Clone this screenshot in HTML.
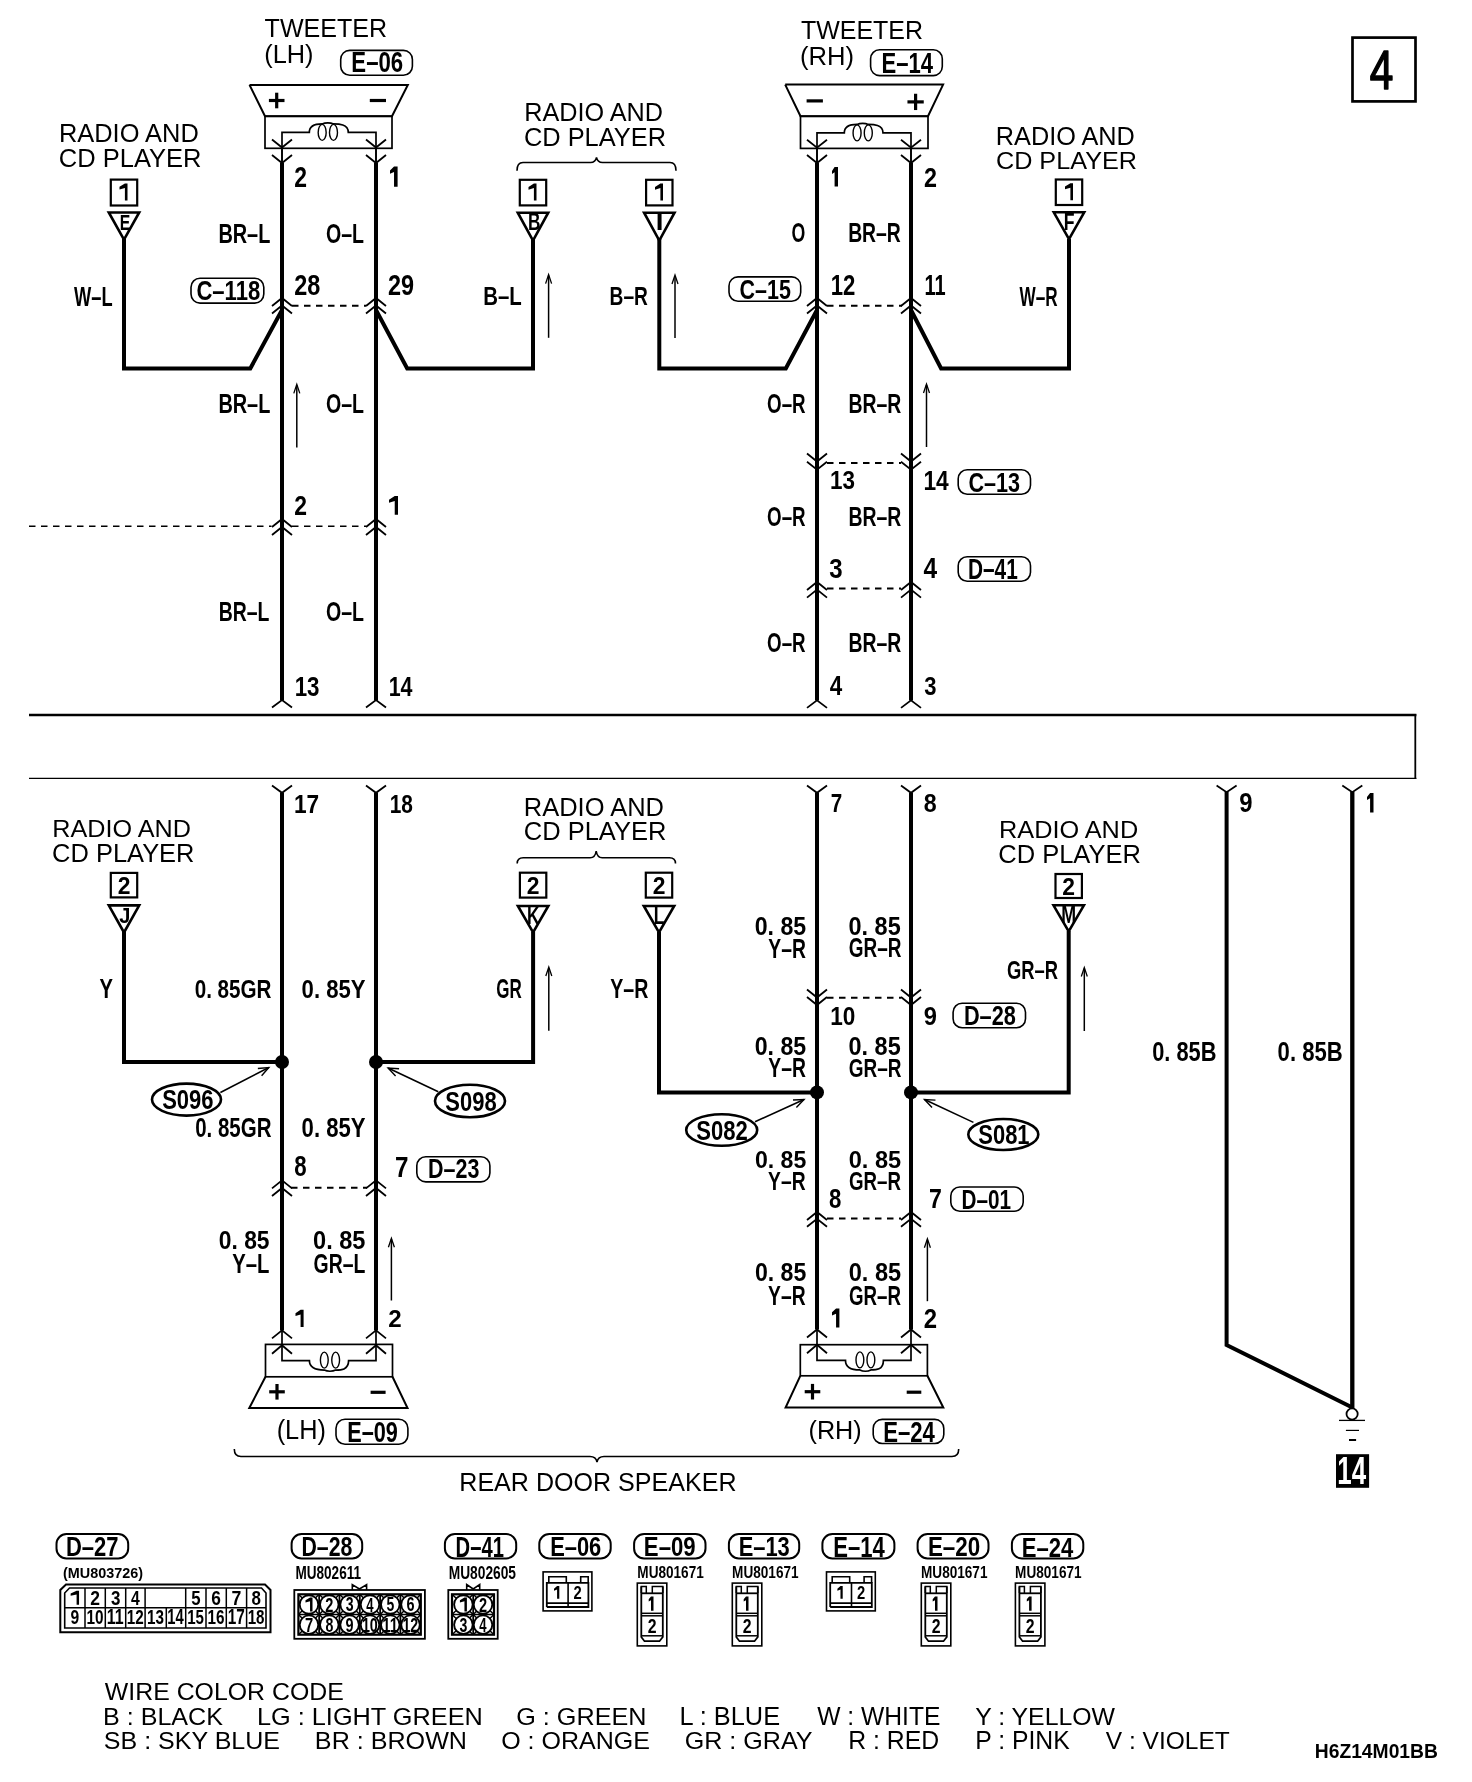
<!DOCTYPE html><html><head><meta charset="utf-8"><title>Wiring diagram</title><style>html,body{margin:0;padding:0;background:#fff;width:1472px;height:1782px;overflow:hidden}text{font-family:"Liberation Sans",sans-serif;white-space:pre}</style></head><body>
<svg width="1472" height="1782" viewBox="0 0 1472 1782" style="display:block;filter:grayscale(100%)" stroke="#000" fill="none" font-family="Liberation Sans, sans-serif">
<rect x="1352.5" y="37.6" width="63" height="63.8" rx="0" stroke-width="2.7" fill="none" stroke="#000"/>
<text x="1369.85" y="88.82" font-size="55.11" font-weight="normal" textLength="23.57" lengthAdjust="spacingAndGlyphs" fill="#000" stroke="#000" stroke-width="1.6" stroke-linejoin="round">4</text>
<text x="264.6" y="36.57" font-size="26.47" font-weight="normal" textLength="122.62" lengthAdjust="spacingAndGlyphs" fill="#000" stroke="none">TWEETER</text>
<text x="264.28" y="62.5" font-size="26.2" font-weight="normal" textLength="49.22" lengthAdjust="spacingAndGlyphs" fill="#000" stroke="none">(LH)</text>
<rect x="340.7" y="50.4" width="71.7" height="24.8" rx="9" stroke-width="1.6" fill="none" stroke="#000"/>
<text x="351.36" y="72.41" font-size="28.73" font-weight="bold" textLength="51.83" lengthAdjust="spacingAndGlyphs" fill="#000" stroke="none">E–06</text>
<polyline points="249.5,84.9 407.8,84.9 392,116.2 265,116.2 249.5,84.9" stroke-width="2" fill="none" stroke-linejoin="miter" />
<rect x="265" y="116.2" width="127" height="32.1" rx="0" stroke-width="1.7" fill="none" stroke="#000"/>
<path d="M282,164.3 V132.4 H309.3 C309.3,123.9 319.17,123.9 322.17,123.9 C325.17,122.4 330.48,122.4 333.48,123.9 C338.48,123.9 348.3,123.9 348.3,132.4 H376 V164.3" stroke-width="1.7" fill="none" />
<ellipse cx="322.17" cy="132.4" rx="4" ry="8" stroke-width="1.4" fill="none"/>
<ellipse cx="333.48" cy="132.4" rx="4" ry="8" stroke-width="1.4" fill="none"/>
<line x1="268.9" y1="100.5" x2="284.5" y2="100.5" stroke-width="3.2" stroke-linecap="butt" />
<line x1="276.7" y1="92.7" x2="276.7" y2="108.3" stroke-width="3.2" stroke-linecap="butt" />
<line x1="369.8" y1="100.5" x2="386" y2="100.5" stroke-width="3.2" stroke-linecap="butt" />
<polyline points="272,139.5 282,147.5 292,139.5" stroke-width="1.8" fill="none" stroke-linejoin="miter" />
<polyline points="272,155 282,163 292,155" stroke-width="1.8" fill="none" stroke-linejoin="miter" />
<line x1="282" y1="148" x2="282" y2="163" stroke-width="1.5" stroke-linecap="butt" />
<polyline points="366,139.5 376,147.5 386,139.5" stroke-width="1.8" fill="none" stroke-linejoin="miter" />
<polyline points="366,155 376,163 386,155" stroke-width="1.8" fill="none" stroke-linejoin="miter" />
<line x1="376" y1="148" x2="376" y2="163" stroke-width="1.5" stroke-linecap="butt" />
<line x1="282" y1="163" x2="282" y2="368.5" stroke-width="4" stroke-linecap="butt" />
<text x="294.2" y="186.8" font-size="29.14" font-weight="bold" textLength="12.75" lengthAdjust="spacingAndGlyphs" fill="#000" stroke="none">2</text>
<path d="M394.03,166.4 H397.6 V186.8 H394.03 V171.91 L390,173.74 V170.48 Z" fill="#000" stroke="none"/>
<text x="58.99" y="142.34" font-size="25.77" font-weight="normal" textLength="139.77" lengthAdjust="spacingAndGlyphs" fill="#000" stroke="none">RADIO AND</text>
<text x="58.82" y="167.44" font-size="25.77" font-weight="normal" textLength="142.73" lengthAdjust="spacingAndGlyphs" fill="#000" stroke="none">CD PLAYER</text>
<rect x="110.8" y="179.6" width="26.4" height="25.9" rx="0" stroke-width="2.2" fill="none" stroke="#000"/>
<polygon points="108.8,212.5 139.2,212.5 124,239.6" stroke-width="2.6" fill="none" stroke-linejoin="miter"/>
<path d="M124.9,183.4 H127.5 V200.4 H124.9 V187.99 L119.5,189.52 V186.8 Z" fill="#000" stroke="none"/>
<text x="119.78" y="229.6" font-size="21.74" font-weight="bold" textLength="10.51" lengthAdjust="spacingAndGlyphs" fill="#000" stroke="none">E</text>
<polyline points="124,239 124,368.5 250.3,368.5 282,310" stroke-width="4" fill="none" stroke-linejoin="miter" />
<text x="74" y="305.7" font-size="27.68" font-weight="bold" textLength="38.56" lengthAdjust="spacingAndGlyphs" fill="#000" stroke="none">W–L</text>
<line x1="282" y1="163" x2="282" y2="700.5" stroke-width="4" stroke-linecap="butt" />
<line x1="376" y1="163" x2="376" y2="700.5" stroke-width="4" stroke-linecap="butt" />
<text x="218.41" y="242.66" font-size="27.91" font-weight="bold" textLength="51.92" lengthAdjust="spacingAndGlyphs" fill="#000" stroke="none">BR–L</text>
<text x="325.92" y="242.53" font-size="27.32" font-weight="bold" textLength="38.07" lengthAdjust="spacingAndGlyphs" fill="#000" stroke="none">O–L</text>
<rect x="191" y="278.2" width="72.8" height="24.9" rx="9" stroke-width="1.6" fill="none" stroke="#000"/>
<text x="196.42" y="299.63" font-size="27.32" font-weight="bold" textLength="63.78" lengthAdjust="spacingAndGlyphs" fill="#000" stroke="none">C–118</text>
<text x="294.28" y="294.51" font-size="28.73" font-weight="bold" textLength="26.08" lengthAdjust="spacingAndGlyphs" fill="#000" stroke="none">28</text>
<text x="388.08" y="294.51" font-size="28.73" font-weight="bold" textLength="26.1" lengthAdjust="spacingAndGlyphs" fill="#000" stroke="none">29</text>
<polyline points="272,306 282,298 292,306" stroke-width="1.8" fill="none" stroke-linejoin="miter" />
<polyline points="272,313.5 282,305.5 292,313.5" stroke-width="1.8" fill="none" stroke-linejoin="miter" />
<polyline points="366,306 376,298 386,306" stroke-width="1.8" fill="none" stroke-linejoin="miter" />
<polyline points="366,313.5 376,305.5 386,313.5" stroke-width="1.8" fill="none" stroke-linejoin="miter" />
<line x1="292" y1="305.7" x2="366" y2="305.7" stroke-width="2.1" stroke-linecap="butt" stroke-dasharray="6.5,5.5"/>
<polyline points="376,310 407.2,368.5 533,368.5 533,239" stroke-width="4" fill="none" stroke-linejoin="miter" />
<text x="218.41" y="412.86" font-size="27.91" font-weight="bold" textLength="51.92" lengthAdjust="spacingAndGlyphs" fill="#000" stroke="none">BR–L</text>
<text x="325.92" y="412.73" font-size="27.32" font-weight="bold" textLength="38.07" lengthAdjust="spacingAndGlyphs" fill="#000" stroke="none">O–L</text>
<line x1="296.8" y1="385.4" x2="296.8" y2="447.6" stroke-width="1.5" stroke-linecap="butt" />
<polyline points="293.8,393.4 296.8,384.4 299.8,393.4" stroke-width="1.3" fill="none" stroke-linejoin="miter" />
<line x1="29" y1="526.3" x2="271.5" y2="526.3" stroke-width="1.4" stroke-linecap="butt" stroke-dasharray="6.5,5.5"/>
<line x1="292" y1="526.3" x2="366" y2="526.3" stroke-width="1.4" stroke-linecap="butt" stroke-dasharray="6.5,5.5"/>
<polyline points="272,527 282,519 292,527" stroke-width="1.8" fill="none" stroke-linejoin="miter" />
<polyline points="272,535 282,527 292,535" stroke-width="1.8" fill="none" stroke-linejoin="miter" />
<polyline points="366,527 376,519 386,527" stroke-width="1.8" fill="none" stroke-linejoin="miter" />
<polyline points="366,535 376,527 386,535" stroke-width="1.8" fill="none" stroke-linejoin="miter" />
<text x="294.2" y="514.7" font-size="26.71" font-weight="bold" textLength="12.75" lengthAdjust="spacingAndGlyphs" fill="#000" stroke="none">2</text>
<path d="M394.73,496 H398 V514.7 H394.73 V501.05 L389,502.73 V499.74 Z" fill="#000" stroke="none"/>
<text x="218.74" y="620.86" font-size="27.34" font-weight="bold" textLength="50.67" lengthAdjust="spacingAndGlyphs" fill="#000" stroke="none">BR–L</text>
<text x="325.92" y="620.73" font-size="26.76" font-weight="bold" textLength="38.07" lengthAdjust="spacingAndGlyphs" fill="#000" stroke="none">O–L</text>
<text x="294.66" y="695.73" font-size="26.76" font-weight="bold" textLength="24.88" lengthAdjust="spacingAndGlyphs" fill="#000" stroke="none">13</text>
<text x="388.71" y="696" font-size="27.54" font-weight="bold" textLength="23.84" lengthAdjust="spacingAndGlyphs" fill="#000" stroke="none">14</text>
<polyline points="272,707.5 282,700 292,707.5" stroke-width="1.8" fill="none" stroke-linejoin="miter" />
<polyline points="366,707.5 376,700 386,707.5" stroke-width="1.8" fill="none" stroke-linejoin="miter" />
<text x="524.2" y="120.54" font-size="25.92" font-weight="normal" textLength="138.75" lengthAdjust="spacingAndGlyphs" fill="#000" stroke="none">RADIO AND</text>
<text x="523.93" y="145.94" font-size="25.77" font-weight="normal" textLength="142.12" lengthAdjust="spacingAndGlyphs" fill="#000" stroke="none">CD PLAYER</text>
<path d="M517,170.7 Q517,162.5 523,162.5 L590.5,162.5 Q595.5,162.5 596.5,157.4 Q597.5,162.5 602.5,162.5 L670,162.5 Q676,162.5 676,170.7" stroke-width="1.6" fill="none" />
<rect x="519.8" y="179.8" width="26.4" height="25.6" rx="0" stroke-width="2.2" fill="none" stroke="#000"/>
<polygon points="517.8,212.7 548.2,212.7 533,240.5" stroke-width="2.6" fill="none" stroke-linejoin="miter"/>
<path d="M533.9,183.5 H536.5 V200.6 H533.9 V188.12 L528.5,189.66 V186.92 Z" fill="#000" stroke="none"/>
<text x="527.88" y="229.8" font-size="23.62" font-weight="bold" textLength="12.43" lengthAdjust="spacingAndGlyphs" fill="#000" stroke="none">B</text>
<rect x="646.1" y="179.8" width="26.4" height="25.6" rx="0" stroke-width="2.2" fill="none" stroke="#000"/>
<polygon points="644.1,212.7 674.5,212.7 659.3,240.5" stroke-width="2.6" fill="none" stroke-linejoin="miter"/>
<path d="M660.4,183.5 H663 V200.6 H660.4 V188.12 L655,189.66 V186.92 Z" fill="#000" stroke="none"/>
<text x="655.71" y="229.8" font-size="23.62" font-weight="bold" textLength="7.66" lengthAdjust="spacingAndGlyphs" fill="#000" stroke="none">I</text>
<text x="483.17" y="305.2" font-size="26.67" font-weight="bold" textLength="38.52" lengthAdjust="spacingAndGlyphs" fill="#000" stroke="none">B–L</text>
<line x1="548.6" y1="275.6" x2="548.6" y2="337.8" stroke-width="1.5" stroke-linecap="butt" />
<polyline points="545.6,283.6 548.6,274.6 551.6,283.6" stroke-width="1.3" fill="none" stroke-linejoin="miter" />
<text x="609.55" y="305.07" font-size="26.47" font-weight="bold" textLength="38.34" lengthAdjust="spacingAndGlyphs" fill="#000" stroke="none">B–R</text>
<line x1="675" y1="276" x2="675" y2="338" stroke-width="1.5" stroke-linecap="butt" />
<polyline points="672,284 675,275 678,284" stroke-width="1.3" fill="none" stroke-linejoin="miter" />
<polyline points="659.3,239 659.3,368.5 785.8,368.5 817,310" stroke-width="4" fill="none" stroke-linejoin="miter" />
<text x="801" y="38.57" font-size="26.33" font-weight="normal" textLength="122.01" lengthAdjust="spacingAndGlyphs" fill="#000" stroke="none">TWEETER</text>
<text x="799.96" y="64.82" font-size="26.1" font-weight="normal" textLength="54.08" lengthAdjust="spacingAndGlyphs" fill="#000" stroke="none">(RH)</text>
<rect x="870.6" y="49.7" width="71.7" height="25.9" rx="9" stroke-width="1.6" fill="none" stroke="#000"/>
<text x="881.57" y="72.5" font-size="30" font-weight="bold" textLength="51.56" lengthAdjust="spacingAndGlyphs" fill="#000" stroke="none">E–14</text>
<polyline points="785.2,84.6 943.1,84.6 928,116.2 800.5,116.2 785.2,84.6" stroke-width="2" fill="none" stroke-linejoin="miter" />
<rect x="800.5" y="116.2" width="127.5" height="32.2" rx="0" stroke-width="1.7" fill="none" stroke="#000"/>
<path d="M817,164.4 V132.9 H844.3 C844.3,124.4 854.07,124.4 857.07,124.4 C860.07,122.9 865.29,122.9 868.29,124.4 C873.29,124.4 883,124.4 883,132.9 H911 V164.4" stroke-width="1.7" fill="none" />
<ellipse cx="857.07" cy="132.9" rx="4" ry="8" stroke-width="1.4" fill="none"/>
<ellipse cx="868.29" cy="132.9" rx="4" ry="8" stroke-width="1.4" fill="none"/>
<line x1="806.6" y1="100.9" x2="822.9" y2="100.9" stroke-width="3.2" stroke-linecap="butt" />
<line x1="907.45" y1="101.9" x2="923.75" y2="101.9" stroke-width="3.2" stroke-linecap="butt" />
<line x1="915.6" y1="93.75" x2="915.6" y2="110.05" stroke-width="3.2" stroke-linecap="butt" />
<polyline points="807,139.7 817,147.7 827,139.7" stroke-width="1.8" fill="none" stroke-linejoin="miter" />
<polyline points="807,155 817,163 827,155" stroke-width="1.8" fill="none" stroke-linejoin="miter" />
<line x1="817" y1="148" x2="817" y2="163" stroke-width="1.5" stroke-linecap="butt" />
<polyline points="901,139.7 911,147.7 921,139.7" stroke-width="1.8" fill="none" stroke-linejoin="miter" />
<polyline points="901,155 911,163 921,155" stroke-width="1.8" fill="none" stroke-linejoin="miter" />
<line x1="911" y1="148" x2="911" y2="163" stroke-width="1.5" stroke-linecap="butt" />
<line x1="817" y1="163" x2="817" y2="700.5" stroke-width="4" stroke-linecap="butt" />
<line x1="911" y1="163" x2="911" y2="700.5" stroke-width="4" stroke-linecap="butt" />
<path d="M834.59,167 H838 V186.5 H834.59 V172.26 L832,174.02 V170.9 Z" fill="#000" stroke="none"/>
<text x="923.98" y="186.5" font-size="27.86" font-weight="bold" textLength="12.98" lengthAdjust="spacingAndGlyphs" fill="#000" stroke="none">2</text>
<text x="791.59" y="242.23" font-size="27.18" font-weight="bold" textLength="13.77" lengthAdjust="spacingAndGlyphs" fill="#000" stroke="none">O</text>
<text x="848.14" y="242.36" font-size="27.77" font-weight="bold" textLength="52.7" lengthAdjust="spacingAndGlyphs" fill="#000" stroke="none">BR–R</text>
<rect x="729" y="276.9" width="71.7" height="24.3" rx="9" stroke-width="1.6" fill="none" stroke="#000"/>
<text x="739.54" y="298.72" font-size="28.17" font-weight="bold" textLength="51.31" lengthAdjust="spacingAndGlyphs" fill="#000" stroke="none">C–15</text>
<text x="830.67" y="294.5" font-size="29.14" font-weight="bold" textLength="24.66" lengthAdjust="spacingAndGlyphs" fill="#000" stroke="none">12</text>
<text x="924.6" y="294.5" font-size="29.57" font-weight="bold" textLength="21.14" lengthAdjust="spacingAndGlyphs" fill="#000" stroke="none">11</text>
<polyline points="807,306 817,298 827,306" stroke-width="1.8" fill="none" stroke-linejoin="miter" />
<polyline points="807,313.5 817,305.5 827,313.5" stroke-width="1.8" fill="none" stroke-linejoin="miter" />
<polyline points="901,306 911,298 921,306" stroke-width="1.8" fill="none" stroke-linejoin="miter" />
<polyline points="901,313.5 911,305.5 921,313.5" stroke-width="1.8" fill="none" stroke-linejoin="miter" />
<line x1="827" y1="305.7" x2="902" y2="305.7" stroke-width="2.1" stroke-linecap="butt" stroke-dasharray="6.5,5.5"/>
<polyline points="911,310 941.1,368.5 1069,368.5 1069,239" stroke-width="4" fill="none" stroke-linejoin="miter" />
<text x="995.8" y="144.54" font-size="25.77" font-weight="normal" textLength="139.06" lengthAdjust="spacingAndGlyphs" fill="#000" stroke="none">RADIO AND</text>
<text x="995.94" y="169.06" font-size="24.37" font-weight="normal" textLength="141.1" lengthAdjust="spacingAndGlyphs" fill="#000" stroke="none">CD PLAYER</text>
<rect x="1055.8" y="179.5" width="26.4" height="25.5" rx="0" stroke-width="2.2" fill="none" stroke="#000"/>
<polygon points="1053.8,212.3 1084.2,212.3 1069,239.1" stroke-width="2.6" fill="none" stroke-linejoin="miter"/>
<path d="M1070.4,183.2 H1073 V200.3 H1070.4 V187.82 L1065,189.36 V186.62 Z" fill="#000" stroke="none"/>
<text x="1063.85" y="229.5" font-size="23.19" font-weight="bold" textLength="10.78" lengthAdjust="spacingAndGlyphs" fill="#000" stroke="none">F</text>
<text x="1019.6" y="305.66" font-size="27.77" font-weight="bold" textLength="38.08" lengthAdjust="spacingAndGlyphs" fill="#000" stroke="none">W–R</text>
<text x="767.05" y="413.22" font-size="27.61" font-weight="bold" textLength="38.55" lengthAdjust="spacingAndGlyphs" fill="#000" stroke="none">O–R</text>
<text x="848.54" y="413.36" font-size="28.2" font-weight="bold" textLength="52.8" lengthAdjust="spacingAndGlyphs" fill="#000" stroke="none">BR–R</text>
<line x1="926.5" y1="385" x2="926.5" y2="447" stroke-width="1.5" stroke-linecap="butt" />
<polyline points="923.5,393 926.5,384 929.5,393" stroke-width="1.3" fill="none" stroke-linejoin="miter" />
<polyline points="807,453.5 817,461.5 827,453.5" stroke-width="1.8" fill="none" stroke-linejoin="miter" />
<polyline points="807,461.7 817,469.7 827,461.7" stroke-width="1.8" fill="none" stroke-linejoin="miter" />
<polyline points="901,453.5 911,461.5 921,453.5" stroke-width="1.8" fill="none" stroke-linejoin="miter" />
<polyline points="901,461.7 911,469.7 921,461.7" stroke-width="1.8" fill="none" stroke-linejoin="miter" />
<line x1="827" y1="463" x2="901" y2="463" stroke-width="2.1" stroke-linecap="butt" stroke-dasharray="6.5,5.5"/>
<text x="829.95" y="489.34" font-size="26.2" font-weight="bold" textLength="24.99" lengthAdjust="spacingAndGlyphs" fill="#000" stroke="none">13</text>
<text x="923.43" y="489.6" font-size="26.96" font-weight="bold" textLength="25.32" lengthAdjust="spacingAndGlyphs" fill="#000" stroke="none">14</text>
<rect x="958.2" y="469.7" width="72.3" height="24.5" rx="9" stroke-width="1.6" fill="none" stroke="#000"/>
<text x="968.44" y="491.52" font-size="28.17" font-weight="bold" textLength="51.63" lengthAdjust="spacingAndGlyphs" fill="#000" stroke="none">C–13</text>
<text x="767.05" y="526.23" font-size="27.46" font-weight="bold" textLength="38.55" lengthAdjust="spacingAndGlyphs" fill="#000" stroke="none">O–R</text>
<text x="848.54" y="526.36" font-size="28.06" font-weight="bold" textLength="52.8" lengthAdjust="spacingAndGlyphs" fill="#000" stroke="none">BR–R</text>
<text x="829.3" y="577.72" font-size="28.31" font-weight="bold" textLength="13.37" lengthAdjust="spacingAndGlyphs" fill="#000" stroke="none">3</text>
<text x="923.53" y="578" font-size="29.13" font-weight="bold" textLength="13.62" lengthAdjust="spacingAndGlyphs" fill="#000" stroke="none">4</text>
<rect x="958.2" y="556.7" width="72.3" height="24.5" rx="9" stroke-width="1.6" fill="none" stroke="#000"/>
<text x="967.95" y="578.8" font-size="28.99" font-weight="bold" textLength="49.79" lengthAdjust="spacingAndGlyphs" fill="#000" stroke="none">D–41</text>
<polyline points="807,590 817,582 827,590" stroke-width="1.8" fill="none" stroke-linejoin="miter" />
<polyline points="807,597.6 817,589.6 827,597.6" stroke-width="1.8" fill="none" stroke-linejoin="miter" />
<polyline points="901,590 911,582 921,590" stroke-width="1.8" fill="none" stroke-linejoin="miter" />
<polyline points="901,597.6 911,589.6 921,597.6" stroke-width="1.8" fill="none" stroke-linejoin="miter" />
<line x1="827" y1="588.5" x2="901" y2="588.5" stroke-width="2.1" stroke-linecap="butt" stroke-dasharray="6.5,5.5"/>
<text x="767.05" y="652.32" font-size="27.61" font-weight="bold" textLength="38.55" lengthAdjust="spacingAndGlyphs" fill="#000" stroke="none">O–R</text>
<text x="848.54" y="652.46" font-size="28.2" font-weight="bold" textLength="52.8" lengthAdjust="spacingAndGlyphs" fill="#000" stroke="none">BR–R</text>
<text x="829.66" y="695" font-size="26.81" font-weight="bold" textLength="12.47" lengthAdjust="spacingAndGlyphs" fill="#000" stroke="none">4</text>
<text x="924.25" y="694.74" font-size="26.06" font-weight="bold" textLength="12.25" lengthAdjust="spacingAndGlyphs" fill="#000" stroke="none">3</text>
<polyline points="807,707.9 817,700.4 827,707.9" stroke-width="1.8" fill="none" stroke-linejoin="miter" />
<polyline points="901,707.9 911,700.4 921,707.9" stroke-width="1.8" fill="none" stroke-linejoin="miter" />
<line x1="29" y1="715" x2="1416.4" y2="715" stroke-width="2.3" stroke-linecap="butt" />
<line x1="29" y1="778.4" x2="1416.4" y2="778.4" stroke-width="1.3" stroke-linecap="butt" />
<line x1="1415.3" y1="714" x2="1415.3" y2="779" stroke-width="1.8" stroke-linecap="butt" />
<polyline points="272,785.6 282,792.8 292,785.6" stroke-width="1.8" fill="none" stroke-linejoin="miter" />
<polyline points="366,785.6 376,792.8 386,785.6" stroke-width="1.8" fill="none" stroke-linejoin="miter" />
<polyline points="807,785.6 817,792.8 827,785.6" stroke-width="1.8" fill="none" stroke-linejoin="miter" />
<polyline points="901,785.6 911,792.8 921,785.6" stroke-width="1.8" fill="none" stroke-linejoin="miter" />
<line x1="282" y1="792.5" x2="282" y2="1330.5" stroke-width="4" stroke-linecap="butt" />
<line x1="376" y1="792.5" x2="376" y2="1330.5" stroke-width="4" stroke-linecap="butt" />
<line x1="817" y1="792.5" x2="817" y2="1329.5" stroke-width="4" stroke-linecap="butt" />
<line x1="911" y1="792.5" x2="911" y2="1329.5" stroke-width="4" stroke-linecap="butt" />
<text x="293.94" y="812.67" font-size="26.62" font-weight="bold" textLength="25.22" lengthAdjust="spacingAndGlyphs" fill="#000" stroke="none">17</text>
<text x="389.75" y="812.54" font-size="26.06" font-weight="bold" textLength="23.23" lengthAdjust="spacingAndGlyphs" fill="#000" stroke="none">18</text>
<text x="830.77" y="812.47" font-size="25.76" font-weight="bold" textLength="11.47" lengthAdjust="spacingAndGlyphs" fill="#000" stroke="none">7</text>
<text x="923.8" y="812.35" font-size="25.21" font-weight="bold" textLength="12.92" lengthAdjust="spacingAndGlyphs" fill="#000" stroke="none">8</text>
<text x="52.3" y="836.76" font-size="23.94" font-weight="normal" textLength="138.65" lengthAdjust="spacingAndGlyphs" fill="#000" stroke="none">RADIO AND</text>
<text x="52.13" y="862.45" font-size="24.93" font-weight="normal" textLength="142.32" lengthAdjust="spacingAndGlyphs" fill="#000" stroke="none">CD PLAYER</text>
<rect x="110.8" y="872.9" width="26.4" height="24.5" rx="0" stroke-width="2.2" fill="none" stroke="#000"/>
<polygon points="108.8,905.4 139.2,905.4 124,932.5" stroke-width="2.6" fill="none" stroke-linejoin="miter"/>
<text x="117.7" y="893.5" font-size="24.29" font-weight="bold" textLength="12.75" lengthAdjust="spacingAndGlyphs" fill="#000" stroke="none">2</text>
<text x="119.2" y="922.77" font-size="22.86" font-weight="bold" textLength="11.12" lengthAdjust="spacingAndGlyphs" fill="#000" stroke="none">J</text>
<polyline points="124,932 124,1062 282,1062" stroke-width="4" fill="none" stroke-linejoin="miter" />
<text x="99.6" y="998.3" font-size="26.96" font-weight="bold" textLength="13.45" lengthAdjust="spacingAndGlyphs" fill="#000" stroke="none">Y</text>
<text x="194.67" y="998.04" font-size="26.2" font-weight="bold" textLength="76.82" lengthAdjust="spacingAndGlyphs" fill="#000" stroke="none">0. 85GR</text>
<text x="301.62" y="998.04" font-size="26.2" font-weight="bold" textLength="63.94" lengthAdjust="spacingAndGlyphs" fill="#000" stroke="none">0. 85Y</text>
<circle cx="282" cy="1062" r="7" stroke-width="0" fill="#000"/>
<circle cx="376" cy="1062" r="7" stroke-width="0" fill="#000"/>
<ellipse cx="186.5" cy="1099.6" rx="34.5" ry="16" stroke-width="2.6" fill="none"/>
<text x="162.14" y="1108.52" font-size="27.89" font-weight="bold" textLength="51.44" lengthAdjust="spacingAndGlyphs" fill="#000" stroke="none">S096</text>
<line x1="220.4" y1="1092.5" x2="268.8" y2="1067.5" stroke-width="1.6" stroke-linecap="butt" />
<polyline points="261.6,1075.81 268.8,1067.5 257.85,1068.56" stroke-width="1.4" fill="none" stroke-linejoin="miter" />
<text x="195.18" y="1136.73" font-size="27.46" font-weight="bold" textLength="76.31" lengthAdjust="spacingAndGlyphs" fill="#000" stroke="none">0. 85GR</text>
<text x="301.62" y="1136.73" font-size="27.46" font-weight="bold" textLength="63.94" lengthAdjust="spacingAndGlyphs" fill="#000" stroke="none">0. 85Y</text>
<text x="294.33" y="1176.41" font-size="28.59" font-weight="bold" textLength="12.36" lengthAdjust="spacingAndGlyphs" fill="#000" stroke="none">8</text>
<text x="395.03" y="1176.55" font-size="29.21" font-weight="bold" textLength="13.46" lengthAdjust="spacingAndGlyphs" fill="#000" stroke="none">7</text>
<rect x="416.8" y="1156.8" width="73.1" height="25.1" rx="9" stroke-width="1.6" fill="none" stroke="#000"/>
<text x="428" y="1178.02" font-size="28.03" font-weight="bold" textLength="51.36" lengthAdjust="spacingAndGlyphs" fill="#000" stroke="none">D–23</text>
<polyline points="272,1188.4 282,1180.4 292,1188.4" stroke-width="1.8" fill="none" stroke-linejoin="miter" />
<polyline points="272,1196 282,1188 292,1196" stroke-width="1.8" fill="none" stroke-linejoin="miter" />
<polyline points="366,1188.4 376,1180.4 386,1188.4" stroke-width="1.8" fill="none" stroke-linejoin="miter" />
<polyline points="366,1196 376,1188 386,1196" stroke-width="1.8" fill="none" stroke-linejoin="miter" />
<line x1="291" y1="1187.8" x2="367" y2="1187.8" stroke-width="2.1" stroke-linecap="butt" stroke-dasharray="6.5,5.5"/>
<text x="218.79" y="1249.44" font-size="26.06" font-weight="bold" textLength="50.78" lengthAdjust="spacingAndGlyphs" fill="#000" stroke="none">0. 85</text>
<text x="232.29" y="1272.8" font-size="28.41" font-weight="bold" textLength="37.19" lengthAdjust="spacingAndGlyphs" fill="#000" stroke="none">Y–L</text>
<text x="313.06" y="1249.44" font-size="26.06" font-weight="bold" textLength="52.43" lengthAdjust="spacingAndGlyphs" fill="#000" stroke="none">0. 85</text>
<text x="313.62" y="1272.52" font-size="27.61" font-weight="bold" textLength="51.8" lengthAdjust="spacingAndGlyphs" fill="#000" stroke="none">GR–L</text>
<line x1="391.4" y1="1239.2" x2="391.4" y2="1300.5" stroke-width="1.5" stroke-linecap="butt" />
<polyline points="388.4,1247.2 391.4,1238.2 394.4,1247.2" stroke-width="1.3" fill="none" stroke-linejoin="miter" />
<path d="M300.59,1309.8 H303.6 V1327 H300.59 V1314.44 L295.5,1315.99 V1313.24 Z" fill="#000" stroke="none"/>
<text x="388.15" y="1327" font-size="24.57" font-weight="bold" textLength="13.44" lengthAdjust="spacingAndGlyphs" fill="#000" stroke="none">2</text>
<polyline points="272,1338.4 282,1330.4 292,1338.4" stroke-width="1.8" fill="none" stroke-linejoin="miter" />
<polyline points="272,1353.8 282,1345.3 292,1353.8" stroke-width="1.8" fill="none" stroke-linejoin="miter" />
<polyline points="366,1338.4 376,1330.4 386,1338.4" stroke-width="1.8" fill="none" stroke-linejoin="miter" />
<polyline points="366,1353.8 376,1345.3 386,1353.8" stroke-width="1.8" fill="none" stroke-linejoin="miter" />
<polyline points="265.5,1376.8 249.3,1408 407.5,1408 392.5,1376.8" stroke-width="2" fill="none" stroke-linejoin="miter" />
<rect x="265.5" y="1344.4" width="127" height="32.4" rx="0" stroke-width="1.7" fill="none" stroke="#000"/>
<path d="M282,1328.4 V1360.6 H309.4 C309.4,1370.1 321.3,1370.1 324.3,1370.1 C327.3,1371.6 332.66,1371.6 335.66,1370.1 C340.66,1370.1 348.6,1370.1 348.6,1360.6 H376 V1328.4" stroke-width="1.7" fill="none" />
<ellipse cx="324.3" cy="1360.1" rx="3.9" ry="8" stroke-width="1.4" fill="none"/>
<ellipse cx="335.66" cy="1360.1" rx="3.9" ry="8" stroke-width="1.4" fill="none"/>
<line x1="269.2" y1="1391.8" x2="284.8" y2="1391.8" stroke-width="3.2" stroke-linecap="butt" />
<line x1="277" y1="1384" x2="277" y2="1399.6" stroke-width="3.2" stroke-linecap="butt" />
<line x1="370.6" y1="1392.3" x2="385.6" y2="1392.3" stroke-width="3.2" stroke-linecap="butt" />
<text x="276.68" y="1439.27" font-size="27.27" font-weight="normal" textLength="49.22" lengthAdjust="spacingAndGlyphs" fill="#000" stroke="none">(LH)</text>
<rect x="336" y="1419.2" width="71.9" height="25" rx="9" stroke-width="1.6" fill="none" stroke="#000"/>
<text x="347.19" y="1441.51" font-size="28.59" font-weight="bold" textLength="50.68" lengthAdjust="spacingAndGlyphs" fill="#000" stroke="none">E–09</text>
<text x="523.78" y="816.45" font-size="24.93" font-weight="normal" textLength="140.18" lengthAdjust="spacingAndGlyphs" fill="#000" stroke="none">RADIO AND</text>
<text x="523.72" y="839.74" font-size="25.92" font-weight="normal" textLength="142.73" lengthAdjust="spacingAndGlyphs" fill="#000" stroke="none">CD PLAYER</text>
<path d="M517.2,863.5 Q517.2,857.8 523.2,857.8 L590.2,857.8 Q595.2,857.8 596.2,851 Q597.2,857.8 602.2,857.8 L669.5,857.8 Q675.5,857.8 675.5,863.5" stroke-width="1.6" fill="none" />
<rect x="519.9" y="872.7" width="26.4" height="24.9" rx="0" stroke-width="2.2" fill="none" stroke="#000"/>
<polygon points="517.9,906 548.3,906 533.1,932.5" stroke-width="2.6" fill="none" stroke-linejoin="miter"/>
<text x="526.7" y="893.5" font-size="24.29" font-weight="bold" textLength="12.75" lengthAdjust="spacingAndGlyphs" fill="#000" stroke="none">2</text>
<text x="526.89" y="923.5" font-size="23.19" font-weight="bold" textLength="12.32" lengthAdjust="spacingAndGlyphs" fill="#000" stroke="none">K</text>
<rect x="645.8" y="872.7" width="26.4" height="24.9" rx="0" stroke-width="2.2" fill="none" stroke="#000"/>
<polygon points="643.8,906 674.2,906 659,932.5" stroke-width="2.6" fill="none" stroke-linejoin="miter"/>
<text x="652.7" y="893.5" font-size="24.29" font-weight="bold" textLength="12.75" lengthAdjust="spacingAndGlyphs" fill="#000" stroke="none">2</text>
<text x="653.86" y="923.5" font-size="23.19" font-weight="bold" textLength="10.67" lengthAdjust="spacingAndGlyphs" fill="#000" stroke="none">L</text>
<polyline points="533.1,932 533.1,1062 376,1062" stroke-width="4" fill="none" stroke-linejoin="miter" />
<text x="496.32" y="998.13" font-size="26.9" font-weight="bold" textLength="25.51" lengthAdjust="spacingAndGlyphs" fill="#000" stroke="none">GR</text>
<line x1="548.8" y1="968" x2="548.8" y2="1030.7" stroke-width="1.5" stroke-linecap="butt" />
<polyline points="545.8,976 548.8,967 551.8,976" stroke-width="1.3" fill="none" stroke-linejoin="miter" />
<text x="610.31" y="998.26" font-size="27.48" font-weight="bold" textLength="38.09" lengthAdjust="spacingAndGlyphs" fill="#000" stroke="none">Y–R</text>
<polyline points="659,932 659,1092.4 817,1092.4" stroke-width="4" fill="none" stroke-linejoin="miter" />
<ellipse cx="470" cy="1101" rx="35" ry="16.2" stroke-width="2.6" fill="none"/>
<text x="445.34" y="1110.72" font-size="28.17" font-weight="bold" textLength="51.33" lengthAdjust="spacingAndGlyphs" fill="#000" stroke="none">S098</text>
<line x1="438.3" y1="1091.8" x2="388.1" y2="1068" stroke-width="1.6" stroke-linecap="butt" />
<polyline points="399.08,1068.69 388.1,1068 395.58,1076.06" stroke-width="1.4" fill="none" stroke-linejoin="miter" />
<text x="754.67" y="934.75" font-size="25.35" font-weight="bold" textLength="51.5" lengthAdjust="spacingAndGlyphs" fill="#000" stroke="none">0. 85</text>
<text x="768.31" y="957.56" font-size="27.63" font-weight="bold" textLength="37.58" lengthAdjust="spacingAndGlyphs" fill="#000" stroke="none">Y–R</text>
<text x="848.56" y="934.75" font-size="25.35" font-weight="bold" textLength="52.12" lengthAdjust="spacingAndGlyphs" fill="#000" stroke="none">0. 85</text>
<text x="848.74" y="957.43" font-size="27.04" font-weight="bold" textLength="52.7" lengthAdjust="spacingAndGlyphs" fill="#000" stroke="none">GR–R</text>
<polyline points="807,989.5 817,997.5 827,989.5" stroke-width="1.8" fill="none" stroke-linejoin="miter" />
<polyline points="807,997 817,1005 827,997" stroke-width="1.8" fill="none" stroke-linejoin="miter" />
<polyline points="901,989.5 911,997.5 921,989.5" stroke-width="1.8" fill="none" stroke-linejoin="miter" />
<polyline points="901,997 911,1005 921,997" stroke-width="1.8" fill="none" stroke-linejoin="miter" />
<line x1="827" y1="997.8" x2="901" y2="997.8" stroke-width="2.1" stroke-linecap="butt" stroke-dasharray="6.5,5.5"/>
<text x="830.25" y="1024.74" font-size="25.92" font-weight="bold" textLength="25.11" lengthAdjust="spacingAndGlyphs" fill="#000" stroke="none">10</text>
<text x="923.67" y="1024.74" font-size="25.92" font-weight="bold" textLength="13.19" lengthAdjust="spacingAndGlyphs" fill="#000" stroke="none">9</text>
<rect x="953.1" y="1003.2" width="72.4" height="24.5" rx="9" stroke-width="1.6" fill="none" stroke="#000"/>
<text x="963.89" y="1025.02" font-size="28.17" font-weight="bold" textLength="51.98" lengthAdjust="spacingAndGlyphs" fill="#000" stroke="none">D–28</text>
<text x="754.67" y="1055.35" font-size="25.35" font-weight="bold" textLength="51.5" lengthAdjust="spacingAndGlyphs" fill="#000" stroke="none">0. 85</text>
<text x="768.31" y="1077.26" font-size="27.19" font-weight="bold" textLength="37.58" lengthAdjust="spacingAndGlyphs" fill="#000" stroke="none">Y–R</text>
<text x="848.56" y="1055.35" font-size="25.35" font-weight="bold" textLength="52.12" lengthAdjust="spacingAndGlyphs" fill="#000" stroke="none">0. 85</text>
<text x="848.74" y="1077.13" font-size="26.62" font-weight="bold" textLength="52.7" lengthAdjust="spacingAndGlyphs" fill="#000" stroke="none">GR–R</text>
<circle cx="817" cy="1092.4" r="7" stroke-width="0" fill="#000"/>
<circle cx="911" cy="1092.4" r="7" stroke-width="0" fill="#000"/>
<polyline points="911,1092.4 1068.7,1092.4 1068.7,931" stroke-width="4" fill="none" stroke-linejoin="miter" />
<text x="999" y="838.46" font-size="23.94" font-weight="normal" textLength="139.16" lengthAdjust="spacingAndGlyphs" fill="#000" stroke="none">RADIO AND</text>
<text x="998.22" y="862.75" font-size="25.35" font-weight="normal" textLength="142.73" lengthAdjust="spacingAndGlyphs" fill="#000" stroke="none">CD PLAYER</text>
<rect x="1055.5" y="874" width="26.4" height="24" rx="0" stroke-width="2.2" fill="none" stroke="#000"/>
<polygon points="1053.5,905.3 1083.9,905.3 1068.7,931.5" stroke-width="2.6" fill="none" stroke-linejoin="miter"/>
<text x="1062.2" y="894.5" font-size="24.29" font-weight="bold" textLength="12.75" lengthAdjust="spacingAndGlyphs" fill="#000" stroke="none">2</text>
<text x="1061.34" y="923" font-size="23.19" font-weight="bold" textLength="14.88" lengthAdjust="spacingAndGlyphs" fill="#000" stroke="none">M</text>
<text x="1006.96" y="979.24" font-size="26.06" font-weight="bold" textLength="51.06" lengthAdjust="spacingAndGlyphs" fill="#000" stroke="none">GR–R</text>
<line x1="1084.3" y1="968.5" x2="1084.3" y2="1031" stroke-width="1.5" stroke-linecap="butt" />
<polyline points="1081.3,976.5 1084.3,967.5 1087.3,976.5" stroke-width="1.3" fill="none" stroke-linejoin="miter" />
<ellipse cx="721.7" cy="1130" rx="35.5" ry="15.8" stroke-width="2.6" fill="none"/>
<text x="696.34" y="1139.72" font-size="28.17" font-weight="bold" textLength="51.56" lengthAdjust="spacingAndGlyphs" fill="#000" stroke="none">S082</text>
<line x1="755" y1="1121.7" x2="804" y2="1099.5" stroke-width="1.6" stroke-linecap="butt" />
<polyline points="796.38,1107.43 804,1099.5 793.01,1100" stroke-width="1.4" fill="none" stroke-linejoin="miter" />
<ellipse cx="1003.3" cy="1134.5" rx="35" ry="15.5" stroke-width="2.6" fill="none"/>
<text x="978.34" y="1144.22" font-size="28.17" font-weight="bold" textLength="51.22" lengthAdjust="spacingAndGlyphs" fill="#000" stroke="none">S081</text>
<line x1="973.4" y1="1122.4" x2="924.5" y2="1099.5" stroke-width="1.6" stroke-linecap="butt" />
<polyline points="935.48,1100.14 924.5,1099.5 932.02,1107.53" stroke-width="1.4" fill="none" stroke-linejoin="miter" />
<text x="754.88" y="1167.76" font-size="24.23" font-weight="bold" textLength="51.4" lengthAdjust="spacingAndGlyphs" fill="#000" stroke="none">0. 85</text>
<text x="768.11" y="1189.87" font-size="26.47" font-weight="bold" textLength="37.48" lengthAdjust="spacingAndGlyphs" fill="#000" stroke="none">Y–R</text>
<text x="848.76" y="1167.76" font-size="24.23" font-weight="bold" textLength="52.43" lengthAdjust="spacingAndGlyphs" fill="#000" stroke="none">0. 85</text>
<text x="848.95" y="1189.74" font-size="25.92" font-weight="bold" textLength="51.98" lengthAdjust="spacingAndGlyphs" fill="#000" stroke="none">GR–R</text>
<text x="828.93" y="1207.53" font-size="26.9" font-weight="bold" textLength="12.36" lengthAdjust="spacingAndGlyphs" fill="#000" stroke="none">8</text>
<text x="928.97" y="1207.66" font-size="27.48" font-weight="bold" textLength="12.88" lengthAdjust="spacingAndGlyphs" fill="#000" stroke="none">7</text>
<rect x="950.8" y="1187" width="72.4" height="24.2" rx="9" stroke-width="1.6" fill="none" stroke="#000"/>
<text x="961.55" y="1208.72" font-size="28.17" font-weight="bold" textLength="49.58" lengthAdjust="spacingAndGlyphs" fill="#000" stroke="none">D–01</text>
<polyline points="807,1220 817,1212 827,1220" stroke-width="1.8" fill="none" stroke-linejoin="miter" />
<polyline points="807,1226.8 817,1218.8 827,1226.8" stroke-width="1.8" fill="none" stroke-linejoin="miter" />
<polyline points="901,1220 911,1212 921,1220" stroke-width="1.8" fill="none" stroke-linejoin="miter" />
<polyline points="901,1226.8 911,1218.8 921,1226.8" stroke-width="1.8" fill="none" stroke-linejoin="miter" />
<line x1="827" y1="1218.5" x2="901" y2="1218.5" stroke-width="2.1" stroke-linecap="butt" stroke-dasharray="6.5,5.5"/>
<line x1="927.4" y1="1239.8" x2="927.4" y2="1301.2" stroke-width="1.5" stroke-linecap="butt" />
<polyline points="924.4,1247.8 927.4,1238.8 930.4,1247.8" stroke-width="1.3" fill="none" stroke-linejoin="miter" />
<text x="754.88" y="1280.75" font-size="24.93" font-weight="bold" textLength="51.4" lengthAdjust="spacingAndGlyphs" fill="#000" stroke="none">0. 85</text>
<text x="768.11" y="1304.76" font-size="27.91" font-weight="bold" textLength="37.48" lengthAdjust="spacingAndGlyphs" fill="#000" stroke="none">Y–R</text>
<text x="848.76" y="1280.75" font-size="24.93" font-weight="bold" textLength="52.43" lengthAdjust="spacingAndGlyphs" fill="#000" stroke="none">0. 85</text>
<text x="848.95" y="1304.63" font-size="27.32" font-weight="bold" textLength="51.98" lengthAdjust="spacingAndGlyphs" fill="#000" stroke="none">GR–R</text>
<path d="M836.06,1308.5 H839.4 V1327.6 H836.06 V1313.66 L832,1315.38 V1312.32 Z" fill="#000" stroke="none"/>
<text x="923.66" y="1327.6" font-size="27.29" font-weight="bold" textLength="13.32" lengthAdjust="spacingAndGlyphs" fill="#000" stroke="none">2</text>
<polyline points="807,1337.5 817,1329.5 827,1337.5" stroke-width="1.8" fill="none" stroke-linejoin="miter" />
<polyline points="807,1353.3 817,1344.8 827,1353.3" stroke-width="1.8" fill="none" stroke-linejoin="miter" />
<polyline points="901,1337.5 911,1329.5 921,1337.5" stroke-width="1.8" fill="none" stroke-linejoin="miter" />
<polyline points="901,1353.3 911,1344.8 921,1353.3" stroke-width="1.8" fill="none" stroke-linejoin="miter" />
<polyline points="800.3,1375.8 785.6,1407.6 943.3,1407.6 927.4,1375.8" stroke-width="2" fill="none" stroke-linejoin="miter" />
<rect x="800.3" y="1344.7" width="127.1" height="31.1" rx="0" stroke-width="1.7" fill="none" stroke="#000"/>
<path d="M817,1328.7 V1360.4 H845.5 C845.5,1369.9 856.9,1369.9 859.9,1369.9 C862.9,1371.4 867.89,1371.4 870.89,1369.9 C875.89,1369.9 883.4,1369.9 883.4,1360.4 H911 V1328.7" stroke-width="1.7" fill="none" />
<ellipse cx="859.9" cy="1359.9" rx="3.9" ry="8" stroke-width="1.4" fill="none"/>
<ellipse cx="870.89" cy="1359.9" rx="3.9" ry="8" stroke-width="1.4" fill="none"/>
<line x1="804.7" y1="1391.7" x2="820.3" y2="1391.7" stroke-width="3.2" stroke-linecap="butt" />
<line x1="812.5" y1="1383.9" x2="812.5" y2="1399.5" stroke-width="3.2" stroke-linecap="butt" />
<line x1="906.7" y1="1392.2" x2="921.3" y2="1392.2" stroke-width="3.2" stroke-linecap="butt" />
<text x="808.49" y="1438.8" font-size="26.2" font-weight="normal" textLength="53.24" lengthAdjust="spacingAndGlyphs" fill="#000" stroke="none">(RH)</text>
<rect x="873.2" y="1419.4" width="70.6" height="24.1" rx="9" stroke-width="1.6" fill="none" stroke="#000"/>
<text x="883.16" y="1441.8" font-size="29" font-weight="bold" textLength="51.76" lengthAdjust="spacingAndGlyphs" fill="#000" stroke="none">E–24</text>
<path d="M234.3,1449 Q234.3,1456.5 241,1456.5 L590,1456.5 Q596,1456.5 597,1462 Q598,1456.5 604,1456.5 L952,1456.5 Q958.7,1456.5 958.7,1449" stroke-width="1.6" fill="none" />
<text x="459.29" y="1491.14" font-size="25.92" font-weight="normal" textLength="277.21" lengthAdjust="spacingAndGlyphs" fill="#000" stroke="none">REAR DOOR SPEAKER</text>
<polyline points="1216.6,785.4 1226.6,792.2 1236.6,785.4" stroke-width="1.8" fill="none" stroke-linejoin="miter" />
<polyline points="1342.3,785.4 1352.3,792.2 1362.3,785.4" stroke-width="1.8" fill="none" stroke-linejoin="miter" />
<polyline points="1226.6,792 1226.6,1345 1352.3,1407.5" stroke-width="4" fill="none" stroke-linejoin="miter" />
<line x1="1352.3" y1="792" x2="1352.3" y2="1408" stroke-width="4.3" stroke-linecap="butt" />
<text x="1239.16" y="812.23" font-size="27.46" font-weight="bold" textLength="13.3" lengthAdjust="spacingAndGlyphs" fill="#000" stroke="none">9</text>
<path d="M1370.09,793 H1373.5 V812.5 H1370.09 V798.26 L1367,800.02 V796.9 Z" fill="#000" stroke="none"/>
<text x="1152.13" y="1061.42" font-size="27.75" font-weight="bold" textLength="64.28" lengthAdjust="spacingAndGlyphs" fill="#000" stroke="none">0. 85B</text>
<text x="1277.62" y="1061.42" font-size="27.75" font-weight="bold" textLength="65.11" lengthAdjust="spacingAndGlyphs" fill="#000" stroke="none">0. 85B</text>
<circle cx="1352.1" cy="1414" r="5.6" stroke-width="1.8" fill="#fff"/>
<line x1="1339" y1="1420.4" x2="1365" y2="1420.4" stroke-width="1.3" stroke-linecap="butt" />
<line x1="1345.9" y1="1430.4" x2="1359" y2="1430.4" stroke-width="1.2" stroke-linecap="butt" />
<line x1="1349" y1="1440" x2="1356.1" y2="1440" stroke-width="2" stroke-linecap="butt" />
<rect x="1336" y="1454.2" width="33.1" height="33.6" rx="0" stroke-width="0" fill="#000" stroke="none"/>
<text x="1337.25" y="1484.1" font-size="37.97" font-weight="bold" textLength="28.81" lengthAdjust="spacingAndGlyphs" fill="#fff" stroke="none">14</text>
<rect x="56.5" y="1534" width="71.7" height="24.5" rx="10" stroke-width="2" fill="none" stroke="#000"/>
<text x="65.97" y="1556.46" font-size="28.09" font-weight="bold" textLength="52.63" lengthAdjust="spacingAndGlyphs" fill="#000" stroke="none">D–27</text>
<rect x="291.6" y="1534" width="70.6" height="24.5" rx="10" stroke-width="2" fill="none" stroke="#000"/>
<text x="301.42" y="1556.32" font-size="27.89" font-weight="bold" textLength="50.94" lengthAdjust="spacingAndGlyphs" fill="#000" stroke="none">D–28</text>
<rect x="444.9" y="1534" width="71.3" height="24.5" rx="10" stroke-width="2" fill="none" stroke="#000"/>
<text x="455.59" y="1556.6" font-size="28.7" font-weight="bold" textLength="48.33" lengthAdjust="spacingAndGlyphs" fill="#000" stroke="none">D–41</text>
<rect x="539.3" y="1534" width="71.4" height="24.5" rx="10" stroke-width="2" fill="none" stroke="#000"/>
<text x="550.18" y="1556.32" font-size="27.89" font-weight="bold" textLength="51.1" lengthAdjust="spacingAndGlyphs" fill="#000" stroke="none">E–06</text>
<rect x="634.1" y="1534" width="71.4" height="24.5" rx="10" stroke-width="2" fill="none" stroke="#000"/>
<text x="643.86" y="1556.32" font-size="27.89" font-weight="bold" textLength="51.83" lengthAdjust="spacingAndGlyphs" fill="#000" stroke="none">E–09</text>
<rect x="728.9" y="1534" width="70.3" height="24.5" rx="10" stroke-width="2" fill="none" stroke="#000"/>
<text x="738.68" y="1556.32" font-size="27.89" font-weight="bold" textLength="51.1" lengthAdjust="spacingAndGlyphs" fill="#000" stroke="none">E–13</text>
<rect x="822.4" y="1534" width="72" height="24.5" rx="10" stroke-width="2" fill="none" stroke="#000"/>
<text x="833.17" y="1556.6" font-size="28.7" font-weight="bold" textLength="51.56" lengthAdjust="spacingAndGlyphs" fill="#000" stroke="none">E–14</text>
<rect x="917.6" y="1534" width="70.9" height="24.5" rx="10" stroke-width="2" fill="none" stroke="#000"/>
<text x="927.95" y="1556.32" font-size="27.89" font-weight="bold" textLength="52.26" lengthAdjust="spacingAndGlyphs" fill="#000" stroke="none">E–20</text>
<rect x="1011.9" y="1534" width="71.4" height="24.5" rx="10" stroke-width="2" fill="none" stroke="#000"/>
<text x="1021.67" y="1556.6" font-size="28.29" font-weight="bold" textLength="51.56" lengthAdjust="spacingAndGlyphs" fill="#000" stroke="none">E–24</text>
<text x="63.08" y="1577.81" font-size="15.19" font-weight="bold" textLength="80.01" lengthAdjust="spacingAndGlyphs" fill="#000" stroke="none">(MU803726)</text>
<text x="295.42" y="1579.32" font-size="18.03" font-weight="bold" textLength="65.65" lengthAdjust="spacingAndGlyphs" fill="#000" stroke="none">MU802611</text>
<text x="448.71" y="1579.32" font-size="18.03" font-weight="bold" textLength="67.27" lengthAdjust="spacingAndGlyphs" fill="#000" stroke="none">MU802605</text>
<text x="637.32" y="1578.44" font-size="16.48" font-weight="bold" textLength="66.45" lengthAdjust="spacingAndGlyphs" fill="#000" stroke="none">MU801671</text>
<text x="732.12" y="1578.44" font-size="16.48" font-weight="bold" textLength="66.45" lengthAdjust="spacingAndGlyphs" fill="#000" stroke="none">MU801671</text>
<text x="921.02" y="1578.44" font-size="16.48" font-weight="bold" textLength="66.45" lengthAdjust="spacingAndGlyphs" fill="#000" stroke="none">MU801671</text>
<text x="1015.12" y="1578.44" font-size="16.48" font-weight="bold" textLength="66.45" lengthAdjust="spacingAndGlyphs" fill="#000" stroke="none">MU801671</text>
<polygon points="60.3,1632.2 60.3,1590 66,1584.5 265,1584.5 270.5,1590 270.5,1632.2" stroke-width="2" fill="none" stroke-linejoin="miter"/>
<polygon points="64.7,1628 64.7,1593 69.5,1588 261.5,1588 266,1593 266,1628" stroke-width="1.6" fill="none" stroke-linejoin="miter"/>
<line x1="64.7" y1="1607.8" x2="266" y2="1607.8" stroke-width="1.6" stroke-linecap="butt" />
<line x1="85" y1="1588" x2="85" y2="1628" stroke-width="1.5" stroke-linecap="butt" />
<line x1="105.3" y1="1588" x2="105.3" y2="1628" stroke-width="1.5" stroke-linecap="butt" />
<line x1="125.7" y1="1588" x2="125.7" y2="1628" stroke-width="1.5" stroke-linecap="butt" />
<line x1="145.1" y1="1588" x2="145.1" y2="1628" stroke-width="1.5" stroke-linecap="butt" />
<line x1="166.3" y1="1607.8" x2="166.3" y2="1628" stroke-width="1.5" stroke-linecap="butt" />
<line x1="185.7" y1="1588" x2="185.7" y2="1628" stroke-width="1.5" stroke-linecap="butt" />
<line x1="206" y1="1588" x2="206" y2="1628" stroke-width="1.5" stroke-linecap="butt" />
<line x1="226.3" y1="1588" x2="226.3" y2="1628" stroke-width="1.5" stroke-linecap="butt" />
<line x1="246.6" y1="1588" x2="246.6" y2="1628" stroke-width="1.5" stroke-linecap="butt" />
<path d="M76.6,1590.8 H79.05 V1604.8 H76.6 V1594.58 L70.65,1595.84 V1593.6 Z" fill="#000" stroke="none"/>
<text x="90.34" y="1604.8" font-size="20" font-weight="bold" textLength="9.73" lengthAdjust="spacingAndGlyphs" fill="#000" stroke="none">2</text>
<text x="110.88" y="1604.6" font-size="19.72" font-weight="bold" textLength="9.44" lengthAdjust="spacingAndGlyphs" fill="#000" stroke="none">3</text>
<text x="130.96" y="1604.8" font-size="20.29" font-weight="bold" textLength="8.73" lengthAdjust="spacingAndGlyphs" fill="#000" stroke="none">4</text>
<text x="191.15" y="1604.6" font-size="20" font-weight="bold" textLength="9.34" lengthAdjust="spacingAndGlyphs" fill="#000" stroke="none">5</text>
<text x="211.34" y="1604.6" font-size="19.72" font-weight="bold" textLength="9.63" lengthAdjust="spacingAndGlyphs" fill="#000" stroke="none">6</text>
<text x="231.54" y="1604.7" font-size="20.14" font-weight="bold" textLength="9.84" lengthAdjust="spacingAndGlyphs" fill="#000" stroke="none">7</text>
<text x="251.59" y="1604.6" font-size="19.72" font-weight="bold" textLength="9.44" lengthAdjust="spacingAndGlyphs" fill="#000" stroke="none">8</text>
<text x="70.5" y="1623.99" font-size="20.85" font-weight="bold" textLength="8.71" lengthAdjust="spacingAndGlyphs" fill="#000" stroke="none">9</text>
<text x="86.48" y="1623.99" font-size="20.85" font-weight="bold" textLength="17.07" lengthAdjust="spacingAndGlyphs" fill="#000" stroke="none">10</text>
<text x="106.79" y="1624.2" font-size="21.45" font-weight="bold" textLength="16.89" lengthAdjust="spacingAndGlyphs" fill="#000" stroke="none">11</text>
<text x="126.73" y="1624.2" font-size="21.14" font-weight="bold" textLength="16.99" lengthAdjust="spacingAndGlyphs" fill="#000" stroke="none">12</text>
<text x="147.03" y="1623.99" font-size="20.85" font-weight="bold" textLength="16.99" lengthAdjust="spacingAndGlyphs" fill="#000" stroke="none">13</text>
<text x="167.36" y="1624.2" font-size="21.45" font-weight="bold" textLength="16.42" lengthAdjust="spacingAndGlyphs" fill="#000" stroke="none">14</text>
<text x="187.19" y="1623.99" font-size="21.14" font-weight="bold" textLength="16.82" lengthAdjust="spacingAndGlyphs" fill="#000" stroke="none">15</text>
<text x="207.48" y="1623.99" font-size="20.85" font-weight="bold" textLength="16.99" lengthAdjust="spacingAndGlyphs" fill="#000" stroke="none">16</text>
<text x="227.78" y="1624.09" font-size="21.29" font-weight="bold" textLength="17.07" lengthAdjust="spacingAndGlyphs" fill="#000" stroke="none">17</text>
<text x="247.64" y="1623.99" font-size="20.85" font-weight="bold" textLength="16.9" lengthAdjust="spacingAndGlyphs" fill="#000" stroke="none">18</text>
<rect x="294.3" y="1590" width="130.6" height="48.8" rx="0" stroke-width="1.8" fill="none" stroke="#000"/>
<rect x="298.4" y="1594.3" width="122.4" height="40.4" rx="0" stroke-width="2.2" fill="none" stroke="#000"/>
<polyline points="352.3,1590 352.3,1584.6 359.45,1589 366.6,1584.6 366.6,1590" stroke-width="1.6" fill="none" stroke-linejoin="miter" />
<line x1="298.4" y1="1614.5" x2="420.8" y2="1614.5" stroke-width="1.5" stroke-linecap="butt" />
<line x1="319.15" y1="1594.3" x2="319.15" y2="1634.7" stroke-width="1.8" stroke-linecap="butt" />
<line x1="339.45" y1="1594.3" x2="339.45" y2="1634.7" stroke-width="1.8" stroke-linecap="butt" />
<line x1="359.8" y1="1594.3" x2="359.8" y2="1634.7" stroke-width="1.8" stroke-linecap="butt" />
<line x1="380.15" y1="1594.3" x2="380.15" y2="1634.7" stroke-width="1.8" stroke-linecap="butt" />
<line x1="400.4" y1="1594.3" x2="400.4" y2="1634.7" stroke-width="1.8" stroke-linecap="butt" />
<line x1="298.4" y1="1594.3" x2="319.15" y2="1614.5" stroke-width="1.5" stroke-linecap="butt" />
<line x1="298.4" y1="1614.5" x2="319.15" y2="1594.3" stroke-width="1.5" stroke-linecap="butt" />
<line x1="298.4" y1="1614.5" x2="319.15" y2="1634.7" stroke-width="1.5" stroke-linecap="butt" />
<line x1="298.4" y1="1634.7" x2="319.15" y2="1614.5" stroke-width="1.5" stroke-linecap="butt" />
<line x1="319.15" y1="1594.3" x2="339.45" y2="1614.5" stroke-width="1.5" stroke-linecap="butt" />
<line x1="319.15" y1="1614.5" x2="339.45" y2="1594.3" stroke-width="1.5" stroke-linecap="butt" />
<line x1="319.15" y1="1614.5" x2="339.45" y2="1634.7" stroke-width="1.5" stroke-linecap="butt" />
<line x1="319.15" y1="1634.7" x2="339.45" y2="1614.5" stroke-width="1.5" stroke-linecap="butt" />
<line x1="339.45" y1="1594.3" x2="359.8" y2="1614.5" stroke-width="1.5" stroke-linecap="butt" />
<line x1="339.45" y1="1614.5" x2="359.8" y2="1594.3" stroke-width="1.5" stroke-linecap="butt" />
<line x1="339.45" y1="1614.5" x2="359.8" y2="1634.7" stroke-width="1.5" stroke-linecap="butt" />
<line x1="339.45" y1="1634.7" x2="359.8" y2="1614.5" stroke-width="1.5" stroke-linecap="butt" />
<line x1="359.8" y1="1594.3" x2="380.15" y2="1614.5" stroke-width="1.5" stroke-linecap="butt" />
<line x1="359.8" y1="1614.5" x2="380.15" y2="1594.3" stroke-width="1.5" stroke-linecap="butt" />
<line x1="359.8" y1="1614.5" x2="380.15" y2="1634.7" stroke-width="1.5" stroke-linecap="butt" />
<line x1="359.8" y1="1634.7" x2="380.15" y2="1614.5" stroke-width="1.5" stroke-linecap="butt" />
<line x1="380.15" y1="1594.3" x2="400.4" y2="1614.5" stroke-width="1.5" stroke-linecap="butt" />
<line x1="380.15" y1="1614.5" x2="400.4" y2="1594.3" stroke-width="1.5" stroke-linecap="butt" />
<line x1="380.15" y1="1614.5" x2="400.4" y2="1634.7" stroke-width="1.5" stroke-linecap="butt" />
<line x1="380.15" y1="1634.7" x2="400.4" y2="1614.5" stroke-width="1.5" stroke-linecap="butt" />
<line x1="400.4" y1="1594.3" x2="420.8" y2="1614.5" stroke-width="1.5" stroke-linecap="butt" />
<line x1="400.4" y1="1614.5" x2="420.8" y2="1594.3" stroke-width="1.5" stroke-linecap="butt" />
<line x1="400.4" y1="1614.5" x2="420.8" y2="1634.7" stroke-width="1.5" stroke-linecap="butt" />
<line x1="400.4" y1="1634.7" x2="420.8" y2="1614.5" stroke-width="1.5" stroke-linecap="butt" />
<circle cx="309" cy="1604.5" r="9.3" stroke-width="1.9" fill="#fff"/>
<circle cx="329.3" cy="1604.5" r="9.3" stroke-width="1.9" fill="#fff"/>
<circle cx="349.6" cy="1604.5" r="9.3" stroke-width="1.9" fill="#fff"/>
<circle cx="370" cy="1604.5" r="9.3" stroke-width="1.9" fill="#fff"/>
<circle cx="390.3" cy="1604.5" r="9.3" stroke-width="1.9" fill="#fff"/>
<circle cx="410.5" cy="1604.5" r="9.3" stroke-width="1.9" fill="#fff"/>
<circle cx="309" cy="1624.7" r="9.3" stroke-width="1.9" fill="#fff"/>
<circle cx="329.3" cy="1624.7" r="9.3" stroke-width="1.9" fill="#fff"/>
<circle cx="349.6" cy="1624.7" r="9.3" stroke-width="1.9" fill="#fff"/>
<circle cx="370" cy="1624.7" r="9.3" stroke-width="1.9" fill="#fff"/>
<circle cx="390.3" cy="1624.7" r="9.3" stroke-width="1.9" fill="#fff"/>
<circle cx="410.5" cy="1624.7" r="9.3" stroke-width="1.9" fill="#fff"/>
<path d="M310.05,1597.5 H312.5 V1611.5 H310.05 V1601.28 L305.5,1602.54 V1600.3 Z" fill="#000" stroke="none"/>
<text x="325.29" y="1611.5" font-size="20" font-weight="bold" textLength="8.11" lengthAdjust="spacingAndGlyphs" fill="#000" stroke="none">2</text>
<text x="345.75" y="1611.3" font-size="19.72" font-weight="bold" textLength="7.86" lengthAdjust="spacingAndGlyphs" fill="#000" stroke="none">3</text>
<text x="366.3" y="1611.5" font-size="20.29" font-weight="bold" textLength="7.28" lengthAdjust="spacingAndGlyphs" fill="#000" stroke="none">4</text>
<text x="386.38" y="1611.3" font-size="20" font-weight="bold" textLength="7.79" lengthAdjust="spacingAndGlyphs" fill="#000" stroke="none">5</text>
<text x="406.49" y="1611.3" font-size="19.72" font-weight="bold" textLength="8.03" lengthAdjust="spacingAndGlyphs" fill="#000" stroke="none">6</text>
<text x="304.91" y="1631.6" font-size="20.14" font-weight="bold" textLength="8.2" lengthAdjust="spacingAndGlyphs" fill="#000" stroke="none">7</text>
<text x="325.38" y="1631.5" font-size="19.72" font-weight="bold" textLength="7.86" lengthAdjust="spacingAndGlyphs" fill="#000" stroke="none">8</text>
<text x="345.59" y="1631.5" font-size="19.72" font-weight="bold" textLength="8.03" lengthAdjust="spacingAndGlyphs" fill="#000" stroke="none">9</text>
<text x="361.89" y="1631.5" font-size="19.72" font-weight="bold" textLength="15.97" lengthAdjust="spacingAndGlyphs" fill="#000" stroke="none">10</text>
<text x="382.15" y="1631.7" font-size="20.29" font-weight="bold" textLength="15.8" lengthAdjust="spacingAndGlyphs" fill="#000" stroke="none">11</text>
<text x="402.39" y="1631.7" font-size="20" font-weight="bold" textLength="15.89" lengthAdjust="spacingAndGlyphs" fill="#000" stroke="none">12</text>
<rect x="448.3" y="1590" width="49.4" height="48.8" rx="0" stroke-width="1.8" fill="none" stroke="#000"/>
<rect x="452" y="1594.3" width="42" height="40.4" rx="0" stroke-width="2.2" fill="none" stroke="#000"/>
<polyline points="466.7,1590 466.7,1584.6 473.2,1589 479.7,1584.6 479.7,1590" stroke-width="1.6" fill="none" stroke-linejoin="miter" />
<line x1="452" y1="1614.5" x2="494" y2="1614.5" stroke-width="1.5" stroke-linecap="butt" />
<line x1="473.2" y1="1594.3" x2="473.2" y2="1634.7" stroke-width="1.8" stroke-linecap="butt" />
<line x1="452" y1="1594.3" x2="473.2" y2="1614.5" stroke-width="1.5" stroke-linecap="butt" />
<line x1="452" y1="1614.5" x2="473.2" y2="1594.3" stroke-width="1.5" stroke-linecap="butt" />
<line x1="452" y1="1614.5" x2="473.2" y2="1634.7" stroke-width="1.5" stroke-linecap="butt" />
<line x1="452" y1="1634.7" x2="473.2" y2="1614.5" stroke-width="1.5" stroke-linecap="butt" />
<line x1="473.2" y1="1594.3" x2="494" y2="1614.5" stroke-width="1.5" stroke-linecap="butt" />
<line x1="473.2" y1="1614.5" x2="494" y2="1594.3" stroke-width="1.5" stroke-linecap="butt" />
<line x1="473.2" y1="1614.5" x2="494" y2="1634.7" stroke-width="1.5" stroke-linecap="butt" />
<line x1="473.2" y1="1634.7" x2="494" y2="1614.5" stroke-width="1.5" stroke-linecap="butt" />
<circle cx="463.4" cy="1604.5" r="9.3" stroke-width="1.9" fill="#fff"/>
<circle cx="483" cy="1604.5" r="9.3" stroke-width="1.9" fill="#fff"/>
<circle cx="463.4" cy="1624.7" r="9.3" stroke-width="1.9" fill="#fff"/>
<circle cx="483" cy="1624.7" r="9.3" stroke-width="1.9" fill="#fff"/>
<path d="M464.45,1597.5 H466.9 V1611.5 H464.45 V1601.28 L459.9,1602.54 V1600.3 Z" fill="#000" stroke="none"/>
<text x="478.99" y="1611.5" font-size="20" font-weight="bold" textLength="8.11" lengthAdjust="spacingAndGlyphs" fill="#000" stroke="none">2</text>
<text x="459.55" y="1631.5" font-size="19.72" font-weight="bold" textLength="7.86" lengthAdjust="spacingAndGlyphs" fill="#000" stroke="none">3</text>
<text x="479.3" y="1631.7" font-size="20.29" font-weight="bold" textLength="7.28" lengthAdjust="spacingAndGlyphs" fill="#000" stroke="none">4</text>
<rect x="543.1" y="1571.9" width="48.8" height="39" rx="0" stroke-width="1.6" fill="none" stroke="#000"/>
<polyline points="546.8,1607 546.8,1582.9 588.4,1582.9 588.4,1607 546.8,1607" stroke-width="1.8" fill="none" stroke-linejoin="miter" />
<polyline points="548.8,1582.9 548.8,1576.7 566.3,1576.7 566.3,1582.9" stroke-width="1.6" fill="none" stroke-linejoin="miter" />
<polyline points="580.7,1582.9 580.7,1576.7 588.2,1576.7 588.2,1582.9" stroke-width="1.6" fill="none" stroke-linejoin="miter" />
<line x1="568.1" y1="1582.9" x2="568.1" y2="1607" stroke-width="1.6" stroke-linecap="butt" />
<line x1="546.8" y1="1603.1" x2="588.4" y2="1603.1" stroke-width="1.6" stroke-linecap="butt" />
<path d="M557.08,1586.1 H559.3 V1598.8 H557.08 V1589.53 L554,1590.67 V1588.64 Z" fill="#000" stroke="none"/>
<text x="573.48" y="1598.8" font-size="18.14" font-weight="bold" textLength="8.23" lengthAdjust="spacingAndGlyphs" fill="#000" stroke="none">2</text>
<rect x="826.5" y="1571.9" width="48.8" height="39" rx="0" stroke-width="1.6" fill="none" stroke="#000"/>
<polyline points="830.2,1607 830.2,1582.9 871.8,1582.9 871.8,1607 830.2,1607" stroke-width="1.8" fill="none" stroke-linejoin="miter" />
<polyline points="832.2,1582.9 832.2,1576.7 849.7,1576.7 849.7,1582.9" stroke-width="1.6" fill="none" stroke-linejoin="miter" />
<polyline points="864.1,1582.9 864.1,1576.7 871.6,1576.7 871.6,1582.9" stroke-width="1.6" fill="none" stroke-linejoin="miter" />
<line x1="851.5" y1="1582.9" x2="851.5" y2="1607" stroke-width="1.6" stroke-linecap="butt" />
<line x1="830.2" y1="1603.1" x2="871.8" y2="1603.1" stroke-width="1.6" stroke-linecap="butt" />
<path d="M840.48,1586.1 H842.7 V1598.8 H840.48 V1589.53 L837.4,1590.67 V1588.64 Z" fill="#000" stroke="none"/>
<text x="856.88" y="1598.8" font-size="18.14" font-weight="bold" textLength="8.23" lengthAdjust="spacingAndGlyphs" fill="#000" stroke="none">2</text>
<rect x="637.3" y="1583.1" width="29.5" height="62.8" rx="0" stroke-width="1.6" fill="none" stroke="#000"/>
<path d="M641.3,1586.5 V1637 L644.5,1641.2 H659.5 L662.8,1637 V1586.5" stroke-width="1.8" fill="none" />
<polyline points="641.3,1593.1 641.3,1586.6 646.3,1586.6 646.3,1593.1" stroke-width="1.5" fill="none" stroke-linejoin="miter" />
<polyline points="652.3,1593.1 652.3,1586.6 662.8,1586.6 662.8,1593.1" stroke-width="1.5" fill="none" stroke-linejoin="miter" />
<line x1="641.3" y1="1593.3" x2="662.8" y2="1593.3" stroke-width="1.8" stroke-linecap="butt" />
<line x1="641.3" y1="1613.3" x2="662.8" y2="1613.3" stroke-width="1.5" stroke-linecap="butt" />
<line x1="641.3" y1="1615.8" x2="662.8" y2="1615.8" stroke-width="1.5" stroke-linecap="butt" />
<line x1="641.3" y1="1635.8" x2="662.8" y2="1635.8" stroke-width="1.5" stroke-linecap="butt" />
<path d="M651,1596.4 H653.5 V1610.7 H651 V1600.26 L648.7,1601.55 V1599.26 Z" fill="#000" stroke="none"/>
<text x="647.65" y="1633" font-size="21" font-weight="bold" textLength="8.81" lengthAdjust="spacingAndGlyphs" fill="#000" stroke="none">2</text>
<rect x="732.3" y="1583.1" width="29.5" height="62.8" rx="0" stroke-width="1.6" fill="none" stroke="#000"/>
<path d="M736.3,1586.5 V1637 L739.5,1641.2 H754.5 L757.8,1637 V1586.5" stroke-width="1.8" fill="none" />
<polyline points="736.3,1593.1 736.3,1586.6 741.3,1586.6 741.3,1593.1" stroke-width="1.5" fill="none" stroke-linejoin="miter" />
<polyline points="747.3,1593.1 747.3,1586.6 757.8,1586.6 757.8,1593.1" stroke-width="1.5" fill="none" stroke-linejoin="miter" />
<line x1="736.3" y1="1593.3" x2="757.8" y2="1593.3" stroke-width="1.8" stroke-linecap="butt" />
<line x1="736.3" y1="1613.3" x2="757.8" y2="1613.3" stroke-width="1.5" stroke-linecap="butt" />
<line x1="736.3" y1="1615.8" x2="757.8" y2="1615.8" stroke-width="1.5" stroke-linecap="butt" />
<line x1="736.3" y1="1635.8" x2="757.8" y2="1635.8" stroke-width="1.5" stroke-linecap="butt" />
<path d="M746,1596.4 H748.5 V1610.7 H746 V1600.26 L743.7,1601.55 V1599.26 Z" fill="#000" stroke="none"/>
<text x="742.65" y="1633" font-size="21" font-weight="bold" textLength="8.81" lengthAdjust="spacingAndGlyphs" fill="#000" stroke="none">2</text>
<rect x="921.3" y="1583.1" width="29.5" height="62.8" rx="0" stroke-width="1.6" fill="none" stroke="#000"/>
<path d="M925.3,1586.5 V1637 L928.5,1641.2 H943.5 L946.8,1637 V1586.5" stroke-width="1.8" fill="none" />
<polyline points="925.3,1593.1 925.3,1586.6 930.3,1586.6 930.3,1593.1" stroke-width="1.5" fill="none" stroke-linejoin="miter" />
<polyline points="936.3,1593.1 936.3,1586.6 946.8,1586.6 946.8,1593.1" stroke-width="1.5" fill="none" stroke-linejoin="miter" />
<line x1="925.3" y1="1593.3" x2="946.8" y2="1593.3" stroke-width="1.8" stroke-linecap="butt" />
<line x1="925.3" y1="1613.3" x2="946.8" y2="1613.3" stroke-width="1.5" stroke-linecap="butt" />
<line x1="925.3" y1="1615.8" x2="946.8" y2="1615.8" stroke-width="1.5" stroke-linecap="butt" />
<line x1="925.3" y1="1635.8" x2="946.8" y2="1635.8" stroke-width="1.5" stroke-linecap="butt" />
<path d="M935,1596.4 H937.5 V1610.7 H935 V1600.26 L932.7,1601.55 V1599.26 Z" fill="#000" stroke="none"/>
<text x="931.65" y="1633" font-size="21" font-weight="bold" textLength="8.81" lengthAdjust="spacingAndGlyphs" fill="#000" stroke="none">2</text>
<rect x="1015.4" y="1583.1" width="29.5" height="62.8" rx="0" stroke-width="1.6" fill="none" stroke="#000"/>
<path d="M1019.4,1586.5 V1637 L1022.6,1641.2 H1037.6 L1040.9,1637 V1586.5" stroke-width="1.8" fill="none" />
<polyline points="1019.4,1593.1 1019.4,1586.6 1024.4,1586.6 1024.4,1593.1" stroke-width="1.5" fill="none" stroke-linejoin="miter" />
<polyline points="1030.4,1593.1 1030.4,1586.6 1040.9,1586.6 1040.9,1593.1" stroke-width="1.5" fill="none" stroke-linejoin="miter" />
<line x1="1019.4" y1="1593.3" x2="1040.9" y2="1593.3" stroke-width="1.8" stroke-linecap="butt" />
<line x1="1019.4" y1="1613.3" x2="1040.9" y2="1613.3" stroke-width="1.5" stroke-linecap="butt" />
<line x1="1019.4" y1="1615.8" x2="1040.9" y2="1615.8" stroke-width="1.5" stroke-linecap="butt" />
<line x1="1019.4" y1="1635.8" x2="1040.9" y2="1635.8" stroke-width="1.5" stroke-linecap="butt" />
<path d="M1029.1,1596.4 H1031.6 V1610.7 H1029.1 V1600.26 L1026.8,1601.55 V1599.26 Z" fill="#000" stroke="none"/>
<text x="1025.75" y="1633" font-size="21" font-weight="bold" textLength="8.81" lengthAdjust="spacingAndGlyphs" fill="#000" stroke="none">2</text>
<text x="104.88" y="1699.66" font-size="23.8" font-weight="normal" textLength="238.86" lengthAdjust="spacingAndGlyphs" fill="#000" stroke="none">WIRE COLOR CODE</text>
<text x="102.99" y="1724.65" font-size="24.51" font-weight="normal" textLength="119.98" lengthAdjust="spacingAndGlyphs" fill="#000" stroke="none">B : BLACK</text>
<text x="256.98" y="1724.65" font-size="24.51" font-weight="normal" textLength="225.87" lengthAdjust="spacingAndGlyphs" fill="#000" stroke="none">LG : LIGHT GREEN</text>
<text x="516.24" y="1724.65" font-size="24.51" font-weight="normal" textLength="130.24" lengthAdjust="spacingAndGlyphs" fill="#000" stroke="none">G : GREEN</text>
<text x="679.59" y="1724.65" font-size="24.86" font-weight="normal" textLength="100.46" lengthAdjust="spacingAndGlyphs" fill="#000" stroke="none">L : BLUE</text>
<text x="817.18" y="1724.9" font-size="25.22" font-weight="normal" textLength="123.21" lengthAdjust="spacingAndGlyphs" fill="#000" stroke="none">W : WHITE</text>
<text x="975.18" y="1724.65" font-size="24.51" font-weight="normal" textLength="139.9" lengthAdjust="spacingAndGlyphs" fill="#000" stroke="none">Y : YELLOW</text>
<text x="103.88" y="1749.06" font-size="24.37" font-weight="normal" textLength="176.11" lengthAdjust="spacingAndGlyphs" fill="#000" stroke="none">SB : SKY BLUE</text>
<text x="314.89" y="1749.06" font-size="24.37" font-weight="normal" textLength="152.14" lengthAdjust="spacingAndGlyphs" fill="#000" stroke="none">BR : BROWN</text>
<text x="501.17" y="1749.06" font-size="24.37" font-weight="normal" textLength="148.84" lengthAdjust="spacingAndGlyphs" fill="#000" stroke="none">O : ORANGE</text>
<text x="684.75" y="1749.06" font-size="24.37" font-weight="normal" textLength="127.84" lengthAdjust="spacingAndGlyphs" fill="#000" stroke="none">GR : GRAY</text>
<text x="848.22" y="1749.18" font-size="24.89" font-weight="normal" textLength="90.95" lengthAdjust="spacingAndGlyphs" fill="#000" stroke="none">R : RED</text>
<text x="975.23" y="1749.3" font-size="25.07" font-weight="normal" textLength="94.53" lengthAdjust="spacingAndGlyphs" fill="#000" stroke="none">P : PINK</text>
<text x="1105.78" y="1749.06" font-size="24.37" font-weight="normal" textLength="123.97" lengthAdjust="spacingAndGlyphs" fill="#000" stroke="none">V : VIOLET</text>
<text x="1314.75" y="1758.31" font-size="19.3" font-weight="bold" textLength="123.14" lengthAdjust="spacingAndGlyphs" fill="#000" stroke="none">H6Z14M01BB</text>
</svg>
</body></html>
